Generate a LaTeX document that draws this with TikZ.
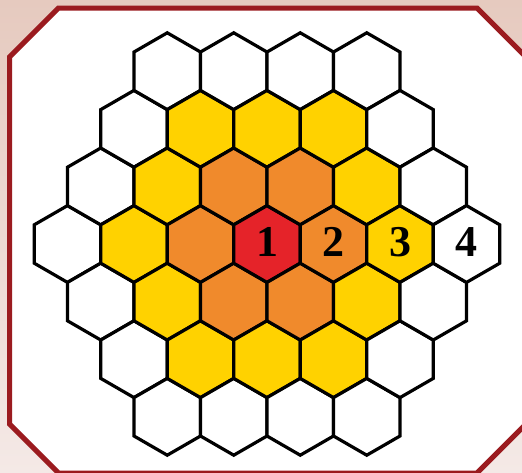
\documentclass[tikz,border=0pt]{standalone}
\usepackage{fontspec}
\setmainfont{Liberation Serif}
\usetikzlibrary{shapes.geometric}
\definecolor{hexred}{HTML}{E52329}
\definecolor{hexorange}{HTML}{F08A2C}
\definecolor{hexyellow}{HTML}{FFD200}
\definecolor{framered}{HTML}{9B1B1F}
\definecolor{bgtop}{HTML}{E6CABF}
\definecolor{bgbot}{HTML}{F4E9E6}
\tikzset{
  hexcell/.style={draw=black,line width=3.2pt,line join=miter,regular polygon,
                  regular polygon sides=6,shape border rotate=30,minimum size=76.8pt,
                  inner sep=0pt,outer sep=0pt},
  ring0/.style={fill=hexred},
  ring1/.style={fill=hexorange},
  ring2/.style={fill=hexyellow},
  ring3/.style={fill=white},
  numlbl/.style={font=\fontsize{44}{44}\selectfont\bfseries,inner sep=0pt},
  frame/.style={draw=framered,line width=5pt,fill=white,line join=miter},
}

\begin{document}
\begin{tikzpicture}[x=1pt,y=-1pt]
  \def\hw{66.5}
  \def\vs{57.6}
  \clip (0,0) rectangle (522,472);
  \fill[top color=bgtop,bottom color=bgbot] (0,0) rectangle (522,472);

  % cut-corner frame
  \draw[frame] (58.5,8) -- (477,8) -- (526,57) -- (526,424) -- (477,473)
    -- (58.5,473) -- (9.5,424) -- (9.5,57) -- cycle;

  % hex rings around the centre cell
  \foreach \q in {-3,...,3}{
    \foreach \r in {-3,...,3}{
      \pgfmathtruncatemacro\ring{max(abs(\q),abs(\r),abs(\q+\r))}
      \ifnum\ring<4
        \node[hexcell,ring\ring] (hex\q_\r) at ({267+\hw*(\q+0.5*\r)},{244+\vs*\r}) {};
      \fi
    }
  }

  % ring numbers
  \node[numlbl] (n1) at ([yshift=2pt]hex0_0) {1};
  \node[numlbl] (n2) at ([yshift=2pt]hex1_0) {2};
  \node[numlbl] (n3) at ([yshift=2pt]hex2_0) {3};
  \node[numlbl] (n4) at ([yshift=2pt]hex3_0) {4};
\end{tikzpicture}
\end{document}
